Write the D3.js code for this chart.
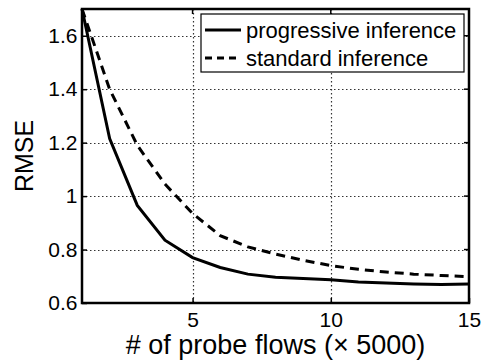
<!DOCTYPE html>
<html>
<head>
<meta charset="utf-8">
<script src="https://cdn.jsdelivr.net/npm/d3@7"></script>
<style>
  body { margin: 0; background: #fff; }
  svg { display: block; font-family: "Liberation Sans", Arial, Helvetica, sans-serif; }
</style>
</head>
<body>
<svg id="chart" width="484" height="360"></svg>
<script>
// probe flow counts (x 5000)
const flows = [1, 2, 3, 4, 5, 6, 7, 8, 9, 10, 11, 12, 13, 14, 15];
const progressive = [1.70, 1.215, 0.965, 0.835, 0.77, 0.733, 0.708, 0.696, 0.692, 0.687, 0.679, 0.675, 0.671, 0.669, 0.671];
const standard = [1.70, 1.40, 1.19, 1.045, 0.935, 0.852, 0.81, 0.783, 0.76, 0.74, 0.726, 0.716, 0.708, 0.703, 0.698];
const xTicks = [5, 10, 15];
const yTicks = [0.6, 0.8, 1, 1.2, 1.4, 1.6];
const seriesNames = ['progressive inference', 'standard inference'];

const svg = d3.select('#chart');
const margin = {top: 9, right: 15, bottom: 57, left: 82};
const width = 484 - margin.left - margin.right;
const height = 360 - margin.top - margin.bottom;

const x = d3.scaleLinear().domain([1, 15]).range([0, width]);
const y = d3.scaleLinear().domain([0.6, 1.7]).range([height, 0]);
const px = v => Math.round(v) + 0.5;

const g = svg.append('g')
    .attr('transform', 'translate(' + margin.left + ',' + margin.top + ')');

// dotted grid
g.selectAll('.hgrid')
    .data(yTicks.slice(1))
    .enter().append('line')
    .attr('class', 'hgrid')
    .attr('x1', 0).attr('x2', width)
    .attr('y1', d => px(y(d))).attr('y2', d => px(y(d)))
    .style('stroke', '#333')
    .style('stroke-width', '1.2px')
    .style('stroke-dasharray', '1.5,2.5');

g.selectAll('.vgrid')
    .data(xTicks.slice(0, -1))
    .enter().append('line')
    .attr('class', 'vgrid')
    .attr('x1', d => px(x(d))).attr('x2', d => px(x(d)))
    .attr('y1', 0).attr('y2', height)
    .style('stroke', '#333')
    .style('stroke-width', '1.2px')
    .style('stroke-dasharray', '1.5,2.5');

// series
const line = d3.line()
    .x((d, i) => x(flows[i]))
    .y(d => y(d));

g.append('path')
    .datum(standard)
    .attr('d', line)
    .attr('fill', 'none')
    .attr('stroke', '#000')
    .attr('stroke-width', 3)
    .attr('stroke-dasharray', '9,6');

g.append('path')
    .datum(progressive)
    .attr('d', line)
    .attr('fill', 'none')
    .attr('stroke', '#000')
    .attr('stroke-width', 3);

// axes (inward ticks, MATLAB style)
const xAxis = g.append('g')
    .attr('transform', 'translate(0,' + height + ')')
    .call(d3.axisBottom(x).tickValues(xTicks).tickSizeInner(-5).tickSizeOuter(0).tickPadding(9));

const yAxis = g.append('g')
    .call(d3.axisLeft(y).tickValues(yTicks).tickFormat(d3.format('')).tickSizeInner(-5).tickSizeOuter(0).tickPadding(4.5));

[xAxis, yAxis].forEach(a => {
    a.select('.domain').remove();
    a.selectAll('.tick line').attr('stroke', '#000').attr('stroke-width', 1.5);
    a.selectAll('.tick text')
        .attr('fill', '#000')
        .style('font-size', '21px')
        .style('font-family', '"Liberation Sans", Arial, sans-serif');
});

// right and top inward ticks
g.append('g')
    .selectAll('line')
    .data(yTicks)
    .enter().append('line')
    .attr('x1', width).attr('x2', width - 5)
    .attr('y1', d => y(d)).attr('y2', d => y(d))
    .attr('stroke', '#000').attr('stroke-width', 1.5);

g.append('g')
    .selectAll('line')
    .data(xTicks)
    .enter().append('line')
    .attr('x1', d => x(d)).attr('x2', d => x(d))
    .attr('y1', 0).attr('y2', 5)
    .attr('stroke', '#000').attr('stroke-width', 1.5);

// box
g.append('rect')
    .attr('x', 0).attr('y', 0)
    .attr('width', width).attr('height', height)
    .attr('fill', 'none')
    .attr('stroke', '#000')
    .attr('stroke-width', 2.5);

// legend
const legend = g.append('g')
    .attr('transform', 'translate(' + (201 - margin.left) + ',' + (14 - margin.top) + ')');

legend.append('rect')
    .attr('x', 0).attr('y', 0)
    .attr('width', 263).attr('height', 58)
    .attr('fill', '#fff')
    .attr('stroke', '#000')
    .attr('stroke-width', 1.2);

const items = legend.selectAll('.item')
    .data(seriesNames)
    .enter().append('g')
    .attr('class', 'item')
    .attr('transform', (d, i) => 'translate(0,' + (16 + i * 28) + ')');

items.append('line')
    .attr('x1', 4).attr('x2', 40)
    .attr('y1', 0).attr('y2', 0)
    .attr('stroke', '#000')
    .attr('stroke-width', 3)
    .attr('stroke-dasharray', (d, i) => i === 1 ? '7,5' : null);

items.append('text')
    .attr('x', 45)
    .attr('y', 8)
    .style('font-size', '22px')
    .text(d => d);

// axis labels
svg.append('text')
    .attr('x', margin.left + width / 2)
    .attr('y', 354)
    .attr('text-anchor', 'middle')
    .style('font-size', '27px')
    .text('# of probe flows (\u00d7 5000)');

svg.append('text')
    .attr('transform', 'translate(33,' + (margin.top + height / 2) + ') rotate(-90)')
    .attr('text-anchor', 'middle')
    .style('font-size', '25px')
    .text('RMSE');
</script>
</body>
</html>
